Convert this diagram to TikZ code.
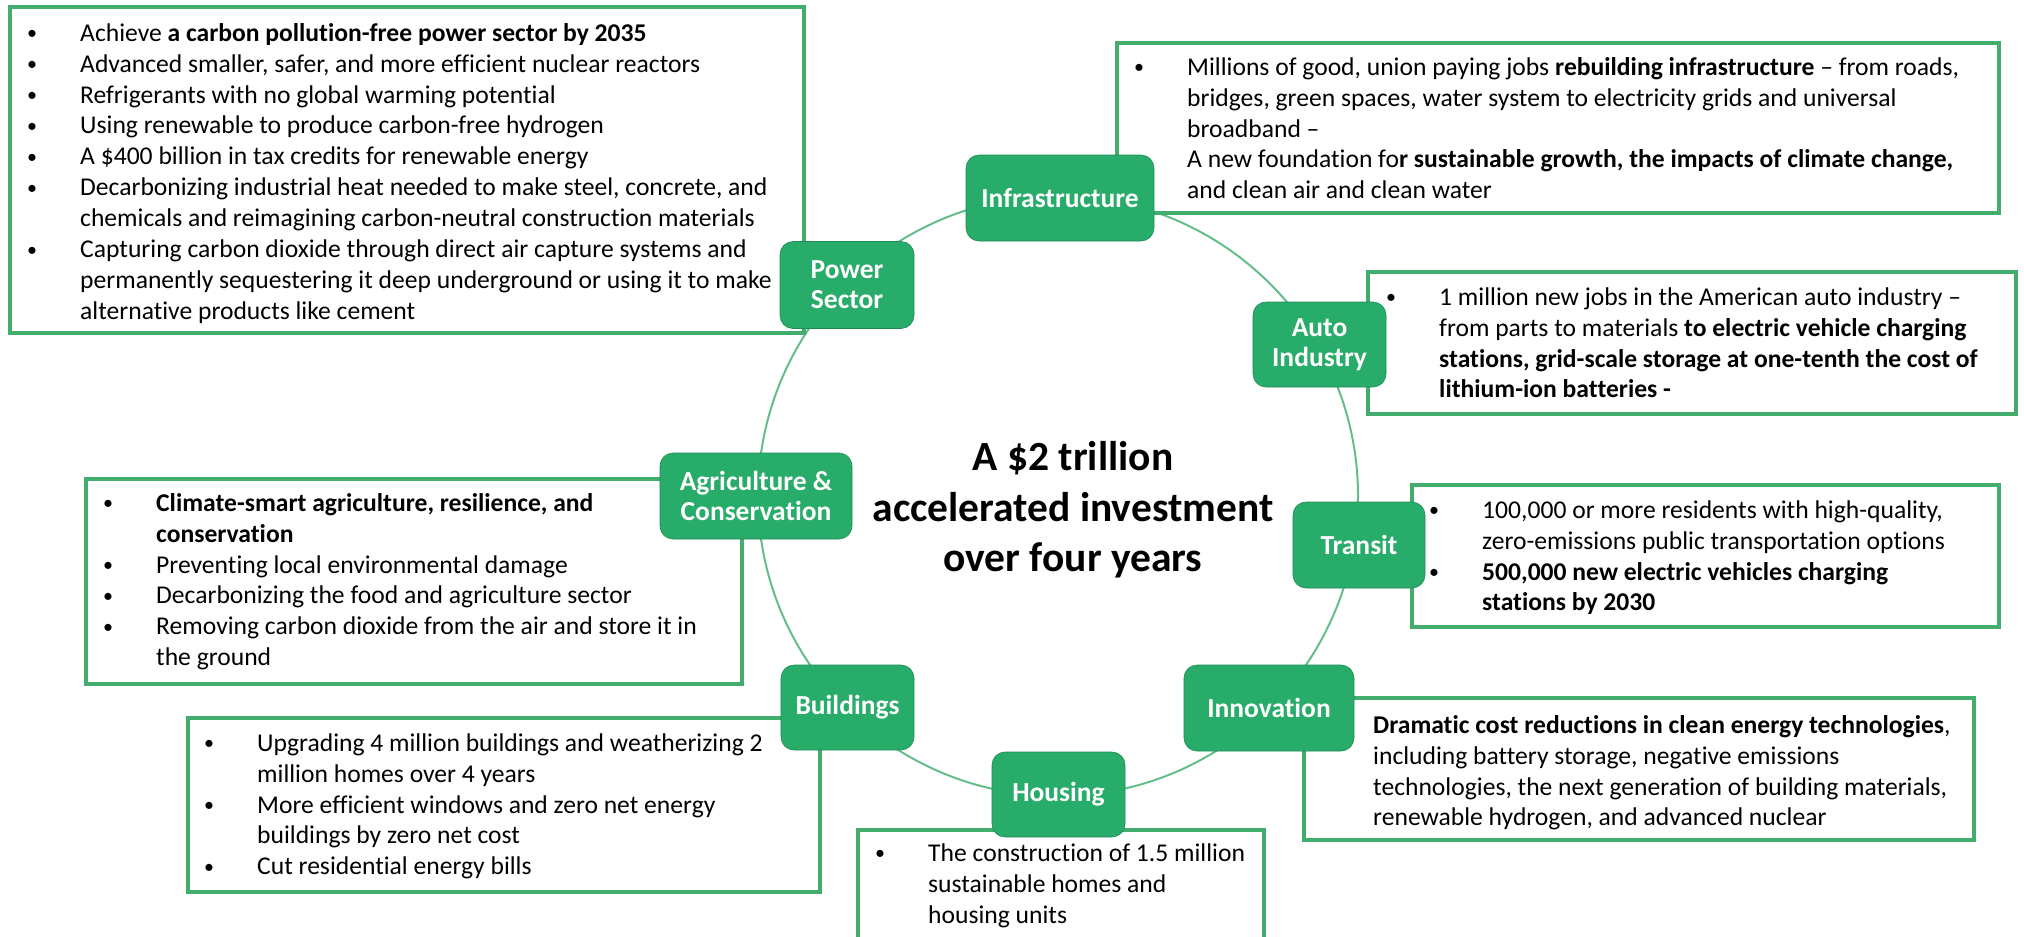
\documentclass[tikz,border=0pt]{standalone}
\usepackage{fontspec}
\setmainfont{Carlito}[Ligatures=NoCommon]
\definecolor{nodegreen}{RGB}{40,172,106}
\definecolor{boxgreen}{RGB}{66,173,108}
\definecolor{ringgreen}{RGB}{100,190,138}
\newcommand\bodyfnt{\fontsize{25.6}{30.9}\selectfont}
\newcommand\bul{\makebox[55pt][l]{\hspace*{2pt}\raisebox{1.5pt}{\fontsize{20}{20}\selectfont •}}}
\newcommand\ind{\hspace*{55pt}}
\newcommand\st{\rule{0pt}{24pt}}
\begin{document}
\begin{tikzpicture}[x=1pt,y=-1pt,
  box/.style={draw=boxgreen, line width=3.5pt, fill=white},
  txt/.style={anchor=north west, inner sep=0pt, align=left, font=\bodyfnt, text=black},
  hub/.style={rounded corners=13pt, fill=nodegreen, draw=nodegreen!80!black, line width=0.6pt, text=white, font=\fontsize{27.5}{30}\selectfont\bfseries, align=center, inner sep=0pt},
  ring/.style={draw=ringgreen, line width=2pt}]
\useasboundingbox (0,0) rectangle (2024,937);
\clip (0,0) rectangle (2024,937);
\fill[white] (0,0) rectangle (2024,937);

% ring
\coordinate (hubc) at (1058,496);
\draw[ring] (hubc) circle[radius=300pt];

% text boxes
\draw[box] (10,7) rectangle (804,333);
\draw[box] (1117,43) rectangle (1999,213);
\draw[box] (1368,272) rectangle (2016,414);
\draw[box] (1412,485) rectangle (1999,627);
\draw[box] (1304,698) rectangle (1974,840);
\draw[box] (858,830) rectangle (1264,960);
\draw[box] (188,718) rectangle (820,892);
\draw[box] (86,479) rectangle (742,684);

\node[txt] (tpower) at (25,17) {\st\bul Achieve \textbf{a carbon pollution-free power sector by 2035}\\
\bul Advanced smaller, safer, and more efficient nuclear reactors\\
\bul Refrigerants with no global warming potential\\
\bul Using renewable to produce carbon-free hydrogen\\
\bul A \$400 billion in tax credits for renewable energy\\
\bul Decarbonizing industrial heat needed to make steel, concrete, and\\
\ind chemicals and reimagining carbon-neutral construction materials\\
\bul Capturing carbon dioxide through direct air capture systems and\\
\ind permanently sequestering it deep underground or using it to make\\
\ind alternative products like cement};

\node[txt] (tinfra) at (1132,51) {\st\bul Millions of good, union paying jobs \textbf{rebuilding infrastructure} – from roads,\\
\ind bridges, green spaces, water system to electricity grids and universal\\
\ind broadband –\\
\bul A new foundation fo\textbf{r sustainable growth, the impacts of climate change,}\\
\ind and clean air and clean water};

\node[txt] (tauto) at (1384,281) {\st\bul 1 million new jobs in the American auto industry –\\
\ind from parts to materials \textbf{to electric vehicle charging}\\
\ind \textbf{stations, grid-scale storage at one-tenth the cost of}\\
\ind \textbf{lithium-ion batteries -}};

\node[txt] (ttransit) at (1427,494) {\st\bul 100,000 or more residents with high-quality,\\
\ind zero-emissions public transportation options\\
\bul \textbf{500,000 new electric vehicles charging}\\
\ind \textbf{stations by 2030}};

\node[txt] (tinnov) at (1373,709) {\st\textbf{Dramatic cost reductions in clean energy technologies},\\
including battery storage, negative emissions\\
technologies, the next generation of building materials,\\
renewable hydrogen, and advanced nuclear};

\node[txt] (thousing) at (873,837) {\st\bul The construction of 1.5 million\\
\ind sustainable homes and\\
\ind housing units};

\node[txt] (tbuild) at (202,727) {\st\bul Upgrading 4 million buildings and weatherizing 2\\
\ind million homes over 4 years\\
\bul More efficient windows and zero net energy\\
\ind buildings by zero net cost\\
\bul Cut residential energy bills};

\node[txt] (tagri) at (101,487) {\st\bul \textbf{Climate-smart agriculture, resilience, and}\\
\ind \textbf{conservation}\\
\bul Preventing local environmental damage\\
\bul Decarbonizing the food and agriculture sector\\
\bul Removing carbon dioxide from the air and store it in\\
\ind the ground};

% hub nodes
\node[hub, minimum width=188pt, minimum height=86pt] (infra) at (1060,198) {Infrastructure};
\node[hub, minimum width=133pt, minimum height=85pt] (auto) at (1319.5,344.5) {Auto\\Industry};
\node[hub, minimum width=132pt, minimum height=86pt] (transit) at (1359,545) {Transit};
\node[hub, minimum width=170pt, minimum height=86pt] (innov) at (1269,708) {Innovation};
\node[hub, minimum width=133pt, minimum height=85pt] (housing) at (1058.5,794.5) {Housing};
\node[hub, minimum width=133pt, minimum height=85pt] (build) at (847.5,707.5) {Buildings};
\node[hub, minimum width=192pt, minimum height=86pt] (agri) at (756,496) {Agriculture \&\\Conservation};
\node[hub, minimum width=134pt, minimum height=87pt] (power) at (847,285) {Power\\Sector};

\node[font=\fontsize{41.5}{50.5}\selectfont\bfseries, align=center] (title) at (1073,510) {A \$2 trillion\\accelerated investment\\over four years};
\end{tikzpicture}
\end{document}
